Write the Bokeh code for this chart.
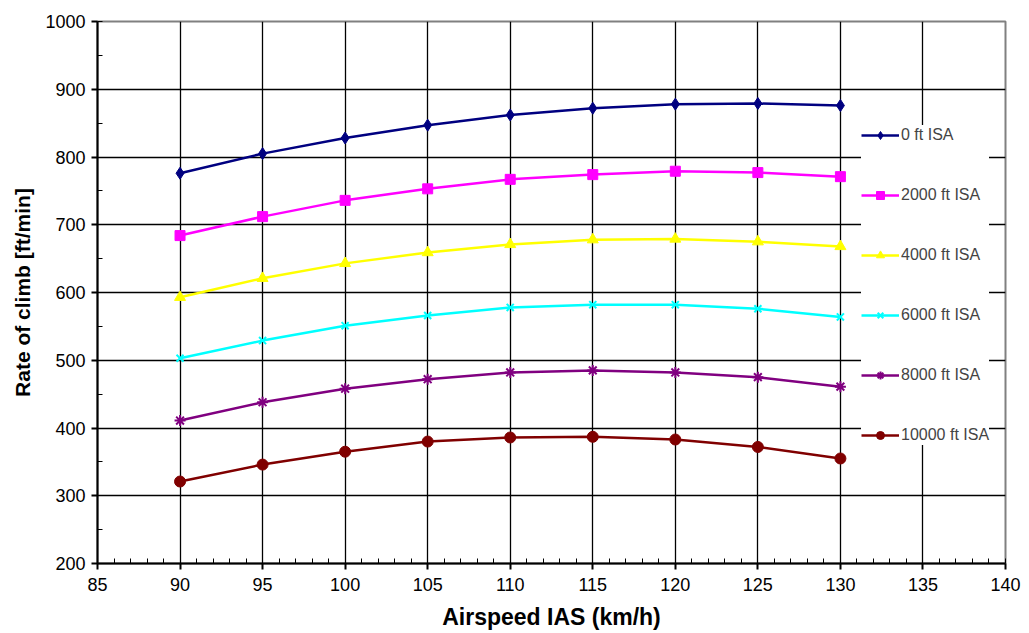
from bokeh.plotting import figure
from bokeh.models import Range1d, FixedTicker, Legend, LegendItem
from bokeh.embed import file_html
from bokeh.resources import INLINE

airspeed = [90, 95, 100, 105, 110, 115, 120, 125, 130]
roc_0 = [776, 805, 828, 847, 862, 872, 878, 879, 876]
roc_2000 = [684, 712, 736, 753, 767, 774, 779, 777, 771]
roc_4000 = [593, 621, 643, 659, 671, 678, 679, 675, 668]
roc_6000 = [503, 529, 551, 566, 578, 582, 582, 576, 564]
roc_8000 = [411, 438, 458, 472, 482, 485, 482, 475, 461]
roc_10000 = [321, 346, 365, 380, 386, 387, 383, 372, 355]

series_names = ["0 ft ISA", "2000 ft ISA", "4000 ft ISA", "6000 ft ISA", "8000 ft ISA", "10000 ft ISA"]
series_values = [roc_0, roc_2000, roc_4000, roc_6000, roc_8000, roc_10000]
colors = ["#000080", "#FF00FF", "#FFFF00", "#00FFFF", "#800080", "#800000"]
markers = ["diamond", "square", "triangle", "x", "asterisk", "circle"]
sizes = [12, 10, 11, 10, 11, 11]

x_ticks = [85, 90, 95, 100, 105, 110, 115, 120, 125, 130, 135, 140]
y_ticks = [200, 300, 400, 500, 600, 700, 800, 900, 1000]

FONT = "Liberation Sans"

p = figure(width=1021, height=625, output_backend="svg", toolbar_location=None,
           x_range=Range1d(85, 140), y_range=Range1d(200, 1000),
           frame_width=908, frame_height=542,
           min_border_left=97, min_border_top=21, min_border_right=16, min_border_bottom=62)

p.background_fill_color = "white"
p.border_fill_color = "white"
p.outline_line_color = "#808080"
p.outline_line_width = 2

p.xaxis.ticker = FixedTicker(ticks=x_ticks, minor_ticks=list(range(85, 141)))
p.yaxis.ticker = FixedTicker(ticks=y_ticks, minor_ticks=list(range(200, 1001, 50)))

for ax in (p.xaxis[0], p.yaxis[0]):
    ax.axis_line_color = "black"
    ax.axis_line_width = 2
    ax.major_tick_line_color = "black"
    ax.major_tick_line_width = 2
    ax.minor_tick_line_color = "black"
    ax.minor_tick_line_width = 1
    ax.major_tick_in = 0
    ax.major_tick_out = 6
    ax.minor_tick_in = 5
    ax.minor_tick_out = 0
    ax.major_label_text_font = FONT
    ax.major_label_text_font_size = "18px"
    ax.major_label_text_color = "black"
    ax.axis_label_text_font = FONT
    ax.axis_label_text_font_style = "bold"
    ax.axis_label_text_color = "black"

p.xaxis.axis_label = "Airspeed IAS (km/h)"
p.yaxis.axis_label = "Rate of climb [ft/min]"
p.xaxis.axis_label_text_font_size = "23px"
p.yaxis.axis_label_text_font_size = "21px"
p.xaxis.major_label_standoff = 8
p.xaxis.axis_label_standoff = 10
p.yaxis.major_label_standoff = 6
p.yaxis.axis_label_standoff = 8

p.xgrid.grid_line_color = "black"
p.xgrid.grid_line_width = 1.3
p.ygrid.grid_line_color = "black"
p.ygrid.grid_line_width = 1.3

items = []
for name, vals, c, m, s in zip(series_names, series_values, colors, markers, sizes):
    r1 = p.line(airspeed, vals, line_color=c, line_width=2.5)
    lw = 2 if m in ("x", "asterisk") else 1
    r2 = p.scatter(airspeed, vals, marker=m, size=s, fill_color=c, line_color=c, line_width=lw)
    items.append(LegendItem(label=name, renderers=[r1, r2]))

legend = Legend(items=items, location=(764, 118), orientation="vertical",
                padding=8, spacing=40, glyph_width=38, glyph_height=20,
                label_standoff=2, label_text_font=FONT, label_text_font_size="16px",
                label_height=20, border_line_color=None,
                background_fill_color="white", background_fill_alpha=1.0, margin=0)
p.add_layout(legend, "center")

open("out.html", "w").write(file_html(p, INLINE))
